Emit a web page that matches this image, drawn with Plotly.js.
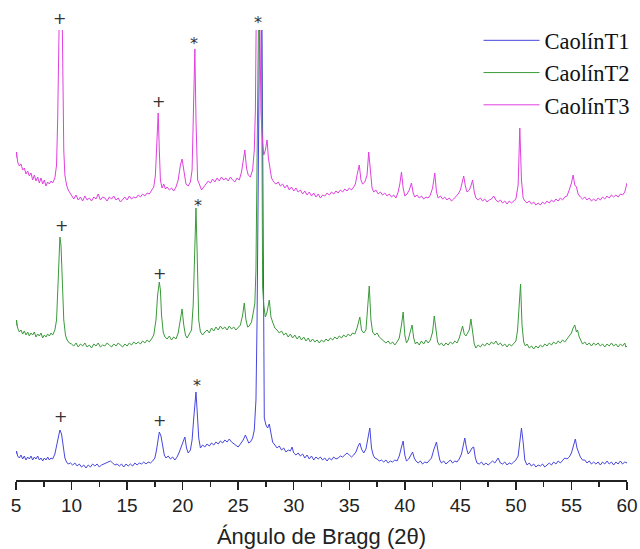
<!DOCTYPE html>
<html>
<head>
<meta charset="utf-8">
<script src="https://cdn.plot.ly/plotly-3.0.1.min.js"></script>
<style>html,body{margin:0;padding:0;background:#fff;}#chart{width:640px;height:549px;}</style>
</head>
<body>
<div id="chart"></div>
<script>
// Intensity (arbitrary units, traces offset) vs 2θ
const seriesNames = ['CaolínT1', 'CaolínT2', 'CaolínT3'];

const caolinT1 = [[5.0,26],[5.05,29],[5.15,24],[5.3,22],[5.45,25],[5.6,21],[5.75,24],[5.9,20],[6.05,23],[6.2,21],[6.35,24],[6.5,20],[6.65,23],[6.8,21],[6.95,24],[7.1,20],[7.25,22],[7.4,19],[7.55,22],[7.7,20],[7.85,23],[8.0,20],[8.15,22],[8.3,21],[8.5,26],[8.65,35],[8.8,45],[8.95,50],[9.1,46],[9.25,33],[9.4,22],[9.55,18],[9.7,16],[9.9,17],
[10.1,15],[10.3,17],[10.5,14],[10.7,16],[10.9,13],[11.1,15],[11.3,12],[11.5,15],[11.7,13],[11.9,16],[12.1,14],[12.3,16],[12.5,13],[12.7,15],[12.9,16],[13.1,17],[13.3,18],[13.5,19],[13.7,17],[13.9,15],[14.1,16],[14.3,14],[14.5,16],[14.7,13],[14.9,16],[15.1,14],[15.3,16],[15.5,14],[15.7,17],[15.9,15],[16.1,17],[16.3,16],[16.5,18],[16.7,16],[16.9,18],[17.1,17],[17.3,19],[17.5,22],[17.65,30],[17.8,44],[17.9,48],[18.05,44],[18.2,32],[18.35,25],[18.5,22],[18.7,24],[18.9,21],[19.1,23],[19.3,20],[19.5,23],[19.7,28],[19.9,34],[20.1,41],[20.2,43],[20.35,32],[20.5,27],[20.7,30],[20.85,40],[21.0,62],[21.1,80],[21.2,88],[21.3,70],[21.45,42],[21.6,32],[21.8,35],[22.0,33],[22.2,36],[22.4,34],[22.6,37],[22.8,35],[23.0,38],[23.2,36],[23.4,39],[23.6,37],[23.8,40],[24.0,38],[24.2,41],[24.4,38],[24.6,36],[24.8,35],[25.0,33],[25.2,36],[25.45,40],[25.65,45],[25.8,40],[25.95,37],[26.1,38],[26.3,42],[26.45,50],[26.6,80],[26.7,160],[26.8,300],[26.9,480],[27.0,560],[27.1,540],[27.2,360],[27.28,120],[27.35,62],[27.5,55],[27.65,52],[27.8,56],[27.95,45],[28.1,38],[28.3,35],[28.5,32],[28.7,34],[28.9,30],[29.1,32],[29.3,28],[29.5,30],[29.7,29],[29.85,33],[30.0,27],[30.2,25],[30.4,27],[30.6,24],[30.8,26],[31.0,22],[31.2,25],[31.4,21],[31.6,24],[31.8,20],[32.0,23],[32.2,21],[32.4,23],[32.6,20],[32.8,22],[33.0,19],[33.2,22],[33.4,20],[33.6,23],[33.8,21],[34.0,22],[34.2,24],[34.4,23],[34.6,25],[34.8,27],[35.0,25],[35.2,23],[35.4,25],[35.6,28],[35.8,34],[35.95,37],[36.1,31],[36.3,27],[36.5,31],[36.7,45],[36.85,52],[37.0,32],[37.15,25],[37.3,22],[37.5,21],[37.7,19],[37.9,20],[38.1,18],[38.3,20],[38.5,17],[38.7,19],[38.9,18],[39.1,20],[39.3,19],[39.5,24],[39.7,33],[39.85,39],[40.0,25],[40.15,19],[40.35,21],[40.55,25],[40.7,28],[40.85,22],[41.0,19],[41.2,17],[41.4,19],[41.6,16],[41.8,18],[42.0,17],[42.2,19],[42.4,22],[42.6,30],[42.85,38],[43.0,28],[43.15,20],[43.3,17],[43.5,19],[43.7,16],[43.9,18],[44.1,20],[44.3,17],[44.5,19],[44.7,18],[44.9,21],[45.1,26],[45.25,35],[45.4,42],[45.55,32],[45.7,26],[45.85,28],[46.05,32],[46.2,33],[46.35,22],[46.5,17],[46.7,16],[46.9,18],[47.1,15],[47.3,17],[47.5,15],[47.7,17],[47.9,19],[48.1,17],[48.4,22],[48.6,17],[48.8,16],[49.0,18],[49.2,15],[49.4,17],[49.6,16],[49.8,18],[50.0,20],[50.2,24],[50.35,36],[50.5,52],[50.65,38],[50.8,20],[51.0,15],[51.2,17],[51.4,14],[51.6,16],[51.8,13],[52.0,15],[52.2,14],[52.4,16],[52.6,13],[52.8,15],[53.0,17],[53.2,15],[53.4,18],[53.6,16],[53.8,19],[54.0,17],[54.2,20],[54.4,22],[54.6,21],[54.8,23],[55.0,27],[55.2,34],[55.35,41],[55.5,32],[55.65,27],[55.8,23],[56.0,20],[56.2,20],[56.4,17],[56.6,19],[56.8,16],[57.0,18],[57.2,16],[57.4,18],[57.6,15],[57.8,18],[58.0,16],[58.2,19],[58.4,16],[58.6,18],[58.8,15],[59.0,18],[59.2,16],[59.4,19],[59.6,16],[59.8,18],[60.0,17]];

const caolinT2 = [[5.0,154],[5.05,160],[5.15,152],[5.3,148],[5.45,150],[5.6,146],[5.75,149],[5.9,145],[6.05,148],[6.2,144],[6.35,147],[6.5,145],[6.65,148],[6.8,143],[6.95,146],[7.1,144],[7.25,147],[7.4,142],[7.55,145],[7.7,143],[7.85,146],[8.0,144],[8.15,147],[8.3,145],[8.5,150],[8.65,160],[8.8,200],[8.95,243],[9.05,235],[9.15,200],[9.3,160],[9.45,145],[9.6,140],[9.8,137],
[10.0,136],[10.2,134],[10.4,137],[10.6,133],[10.8,136],[11.0,134],[11.2,137],[11.4,133],[11.6,135],[11.8,132],[12.0,136],[12.2,134],[12.4,137],[12.6,133],[12.8,135],[13.0,134],[13.2,137],[13.4,135],[13.6,133],[13.8,136],[14.0,134],[14.2,137],[14.4,135],[14.6,133],[14.8,136],[15.0,134],[15.2,137],[15.4,135],[15.6,138],[15.8,136],[16.0,138],[16.2,136],[16.4,139],[16.6,137],[16.8,140],[17.0,138],[17.2,141],[17.4,145],[17.6,160],[17.75,185],[17.9,198],[18.0,190],[18.1,165],[18.25,148],[18.4,143],[18.6,141],[18.8,144],[19.0,140],[19.2,143],[19.4,141],[19.6,147],[19.8,160],[19.95,171],[20.1,155],[20.25,145],[20.4,142],[20.6,146],[20.8,150],[20.95,175],[21.1,250],[21.2,272],[21.3,230],[21.45,160],[21.6,148],[21.8,145],[22.0,148],[22.2,150],[22.4,147],[22.6,152],[22.8,149],[23.0,153],[23.2,150],[23.4,154],[23.6,151],[23.8,153],[24.0,150],[24.2,154],[24.4,151],[24.6,153],[24.8,150],[25.0,152],[25.2,155],[25.4,165],[25.55,177],[25.7,160],[25.85,153],[26.0,154],[26.2,158],[26.4,170],[26.5,177],[26.6,210],[26.7,320],[26.8,480],[26.9,540],[27.0,540],[27.1,450],[27.2,193],[27.3,175],[27.45,163],[27.6,168],[27.8,180],[27.95,163],[28.1,158],[28.3,152],[28.5,150],[28.7,147],[28.9,149],[29.1,145],[29.3,147],[29.5,143],[29.7,146],[29.9,142],[30.1,145],[30.3,141],[30.5,144],[30.7,140],[30.9,143],[31.1,139],[31.3,142],[31.5,138],[31.7,141],[31.9,138],[32.1,140],[32.3,137],[32.5,140],[32.7,138],[32.9,141],[33.1,139],[33.3,142],[33.5,140],[33.7,143],[33.9,141],[34.1,144],[34.3,142],[34.5,145],[34.7,143],[34.9,146],[35.1,144],[35.3,147],[35.5,146],[35.7,152],[35.85,160],[35.95,163],[36.1,150],[36.3,147],[36.5,150],[36.65,170],[36.8,194],[36.95,160],[37.1,148],[37.3,145],[37.5,147],[37.7,143],[37.9,141],[38.1,140],[38.3,137],[38.5,139],[38.7,136],[38.9,138],[39.1,135],[39.3,138],[39.5,142],[39.7,155],[39.85,168],[40.0,145],[40.15,137],[40.3,140],[40.5,148],[40.65,155],[40.8,142],[40.95,136],[41.1,138],[41.3,135],[41.5,139],[41.7,136],[41.9,140],[42.1,137],[42.3,140],[42.5,148],[42.65,164],[42.8,150],[42.95,138],[43.1,135],[43.3,137],[43.5,134],[43.7,137],[43.9,135],[44.1,138],[44.3,136],[44.5,139],[44.7,137],[44.9,142],[45.05,148],[45.2,154],[45.35,146],[45.5,144],[45.65,147],[45.8,150],[45.95,161],[46.1,145],[46.25,136],[46.4,132],[46.6,135],[46.8,133],[47.0,136],[47.2,134],[47.4,137],[47.6,135],[47.8,138],[48.0,136],[48.2,139],[48.4,135],[48.6,137],[48.8,134],[49.0,136],[49.2,133],[49.4,136],[49.6,134],[49.8,137],[50.0,139],[50.15,150],[50.3,175],[50.42,196],[50.55,155],[50.7,138],[50.85,134],[51.0,136],[51.2,132],[51.4,134],[51.6,131],[51.8,134],[52.0,132],[52.2,135],[52.4,133],[52.6,136],[52.8,134],[53.0,137],[53.2,135],[53.4,138],[53.6,136],[53.8,139],[54.0,137],[54.2,140],[54.4,138],[54.6,141],[54.8,143],[55.0,147],[55.15,152],[55.3,155],[55.45,148],[55.55,150],[55.7,143],[55.85,139],[56.0,136],[56.2,138],[56.4,135],[56.6,137],[56.8,134],[57.0,137],[57.2,135],[57.4,137],[57.6,134],[57.8,136],[58.0,133],[58.2,136],[58.4,134],[58.6,137],[58.8,134],[59.0,136],[59.2,133],[59.4,136],[59.6,134],[59.8,137],[59.9,133],[60.0,134]];

const caolinT3 = [[5.0,322],[5.05,328],[5.15,318],[5.3,314],[5.45,316],[5.6,310],[5.75,312],[5.9,306],[6.05,309],[6.2,304],[6.35,307],[6.5,300],[6.65,305],[6.8,299],[6.95,303],[7.1,297],[7.25,302],[7.4,296],[7.55,300],[7.7,294],[7.85,298],[8.0,296],[8.15,299],[8.3,297],[8.5,302],[8.65,315],[8.75,360],[8.85,520],[9.0,540],[9.1,520],[9.2,400],[9.3,330],[9.4,305],[9.55,295],[9.7,290],[9.85,287],
[10.0,284],[10.2,281],[10.4,285],[10.6,280],[10.8,283],[11.0,279],[11.2,284],[11.4,280],[11.6,282],[11.8,279],[12.0,283],[12.2,281],[12.4,286],[12.6,280],[12.8,283],[13.0,282],[13.2,279],[13.4,283],[13.6,281],[13.8,284],[14.0,280],[14.2,282],[14.4,278],[14.6,281],[14.8,283],[15.0,280],[15.2,284],[15.4,281],[15.6,283],[15.8,282],[16.0,285],[16.2,283],[16.4,286],[16.6,284],[16.8,287],[17.0,286],[17.2,289],[17.4,293],[17.55,305],[17.7,340],[17.8,367],[17.9,330],[18.0,300],[18.15,292],[18.3,296],[18.45,291],[18.6,293],[18.8,290],[19.0,292],[19.2,289],[19.4,293],[19.6,300],[19.8,315],[19.95,321],[20.1,308],[20.3,296],[20.5,294],[20.7,298],[20.85,310],[21.0,380],[21.1,431],[21.2,360],[21.35,300],[21.5,296],[21.7,290],[21.9,293],[22.1,296],[22.3,299],[22.5,297],[22.7,301],[22.9,298],[23.1,302],[23.3,299],[23.5,303],[23.7,300],[23.9,302],[24.1,299],[24.3,303],[24.5,300],[24.7,298],[24.9,302],[25.1,300],[25.3,308],[25.45,322],[25.6,330],[25.75,312],[25.9,305],[26.1,303],[26.3,310],[26.45,330],[26.55,370],[26.63,470],[26.7,540],[26.8,540],[26.88,520],[26.96,420],[27.05,368],[27.15,345],[27.3,325],[27.45,330],[27.6,340],[27.72,322],[27.85,310],[28.0,302],[28.2,298],[28.4,296],[28.6,298],[28.8,294],[29.0,296],[29.2,292],[29.4,295],[29.6,290],[29.8,293],[30.0,289],[30.2,292],[30.4,288],[30.6,290],[30.8,286],[31.0,289],[31.2,285],[31.4,288],[31.6,284],[31.8,287],[32.0,283],[32.2,286],[32.4,282],[32.6,285],[32.8,284],[33.0,287],[33.2,285],[33.4,288],[33.6,286],[33.8,289],[34.0,287],[34.2,290],[34.4,288],[34.6,291],[34.8,289],[35.0,292],[35.2,290],[35.4,293],[35.55,296],[35.7,305],[35.9,315],[36.05,300],[36.2,296],[36.4,298],[36.6,305],[36.75,328],[36.9,305],[37.05,292],[37.2,288],[37.4,290],[37.6,286],[37.8,288],[38.0,285],[38.2,287],[38.4,284],[38.6,286],[38.8,283],[39.0,285],[39.2,282],[39.4,288],[39.55,296],[39.7,308],[39.85,292],[40.0,284],[40.2,286],[40.4,290],[40.6,297],[40.75,287],[40.9,283],[41.1,285],[41.3,282],[41.5,284],[41.7,281],[41.9,283],[42.1,282],[42.3,285],[42.5,292],[42.7,307],[42.85,288],[43.0,282],[43.2,284],[43.4,281],[43.6,283],[43.8,280],[44.0,282],[44.2,279],[44.4,281],[44.6,283],[44.8,286],[45.0,290],[45.15,298],[45.3,304],[45.45,294],[45.6,288],[45.8,290],[45.95,294],[46.1,300],[46.25,288],[46.4,282],[46.6,280],[46.8,282],[47.0,279],[47.2,281],[47.4,278],[47.6,280],[47.8,281],[48.0,284],[48.2,280],[48.4,278],[48.6,280],[48.8,277],[49.0,279],[49.2,276],[49.4,279],[49.6,277],[49.8,279],[50.0,281],[50.2,295],[50.35,352],[50.5,300],[50.65,282],[50.8,279],[51.0,277],[51.2,279],[51.4,276],[51.6,278],[51.8,275],[52.0,277],[52.2,275],[52.4,278],[52.6,276],[52.8,279],[53.0,277],[53.2,280],[53.4,278],[53.6,281],[53.8,279],[54.0,282],[54.2,280],[54.4,283],[54.6,284],[54.8,290],[55.0,297],[55.15,305],[55.3,295],[55.45,293],[55.6,286],[55.8,283],[56.0,281],[56.2,283],[56.4,280],[56.6,282],[56.8,279],[57.0,281],[57.2,279],[57.4,282],[57.6,280],[57.8,283],[58.0,281],[58.2,284],[58.4,282],[58.6,285],[58.8,283],[59.0,285],[59.2,283],[59.4,286],[59.6,285],[59.8,288],[59.9,292],[60.0,297]];

// Peak markers (+ / *) : 2θ position, intensity level, symbol
const markX = [8.96, 17.83, 21.02, 26.78, 9.14, 17.96, 21.38, 9.05, 17.96, 21.3];
const markY = [462, 379, 440, 462, 255, 207, 278, 64, 59, 99];
const markSym = ['+', '+', '*', '*', '+', '+', '*', '+', '+', '*'];

const xTickVals = [5, 10, 15, 20, 25, 30, 35, 40, 45, 50, 55, 60];
const yMax = 450;

const colors = ['#4646e0', '#3a9a3a', '#e040e0'];
const datasets = [caolinT1, caolinT2, caolinT3];

const traces = datasets.map((d, i) => ({
  type: 'scatter', mode: 'lines', name: seriesNames[i],
  x: d.map(p => p[0]), y: d.map(p => p[1]),
  line: {color: colors[i], width: 1}
}));

const annotations = markX.map((x, i) => ({
  x: x, xref: 'x', y: (markY[i] - (markSym[i] === '*' ? 4 : 0)) / yMax, yref: 'paper',
  text: markSym[i], showarrow: false, xanchor: 'center', yanchor: 'middle',
  font: {family: 'DejaVu Sans, sans-serif', size: 16, color: '#333'}
}));

const layout = {
  width: 640, height: 549,
  margin: {l: 16, r: 13, t: 30, b: 69, autoexpand: false},
  paper_bgcolor: '#fff', plot_bgcolor: '#fff',
  showlegend: true,
  legend: {x: 0.757, y: 1.024, xanchor: 'left', yanchor: 'top', bgcolor: 'rgba(0,0,0,0)',
    font: {family: 'Liberation Serif, Times New Roman, serif', size: 22.5, color: '#111'},
    itemwidth: 56, tracegroupgap: 0},
  xaxis: {
    range: [5, 60], tickvals: xTickVals, ticktext: xTickVals.map(String),
    showgrid: false, zeroline: false, showline: true, linecolor: '#222', linewidth: 1.5,
    ticks: 'outside', ticklen: 8, tickwidth: 1.5, tickcolor: '#222', ticklabelstandoff: 0,
    minor: {dtick: 2.5, tick0: 5, ticks: 'outside', ticklen: 5, tickwidth: 1.5, tickcolor: '#222', showgrid: false},
    tickfont: {family: 'Liberation Sans, Arial, sans-serif', size: 19, color: '#222'},
    title: {text: 'Ángulo de Bragg (2θ)', font: {family: 'Liberation Sans, Arial, sans-serif', size: 22, color: '#222'}, standoff: 14}
  },
  yaxis: {range: [0, yMax], visible: false, showgrid: false, zeroline: false},
  annotations: annotations
};

Plotly.newPlot('chart', traces, layout, {staticPlot: true, displayModeBar: false});
</script>
</body>
</html>
